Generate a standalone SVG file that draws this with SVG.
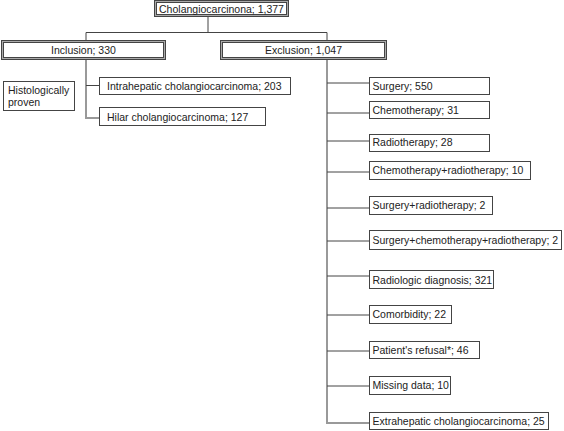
<svg xmlns="http://www.w3.org/2000/svg" width="564" height="431" viewBox="0 0 564 431">
<style>
text{font-family:"Liberation Sans",Arial,sans-serif;font-size:10.5px;fill:#222}
.b{fill:#fff;stroke:#444;stroke-width:1}
.o{fill:#aaa;stroke:#444;stroke-width:1}
.t{stroke:#999;stroke-width:2;fill:none}
.c{stroke:#444;stroke-width:1;fill:none}
</style>
<rect width="564" height="431" fill="#fff"/>
<g id="connectors">
<path class="c" d="M208 16V32.5H86V40"/>
<path class="c" d="M208 32.5H327V40"/>
<path class="t" d="M86 60V118H100"/>
<path class="c" d="M86 85.5H100"/>
<path class="t" d="M327 60V423H369"/>
<path class="c" d="M327 83H369M327 113H369M327 141H369M327 172H369M327 208H369M327 241H369M327 276H369M327 315H369M327 351H369M327 386H369"/>
</g>
<g id="root"><rect class="o" x="154.5" y="0.5" width="134" height="16"/><rect class="b" x="156.5" y="2.5" width="130" height="12"/><text x="221.5" y="12.5" text-anchor="middle">Cholangiocarcinona; 1,377</text></g>
<g id="inclusion"><rect class="o" x="1.5" y="40.5" width="164" height="19"/><rect class="b" x="3.5" y="42.5" width="160" height="15"/><text x="83.5" y="54" text-anchor="middle">Inclusion; 330</text></g>
<g id="exclusion"><rect class="o" x="220.5" y="40.5" width="166" height="19"/><rect class="b" x="222.5" y="42.5" width="162" height="15"/><text x="303.5" y="54" text-anchor="middle">Exclusion; 1,047</text></g>
<g id="histo"><rect class="b" x="3.5" y="81.5" width="71" height="29"/><text x="8" y="94">Histologically</text><text x="8" y="105.5">proven</text></g>
<g id="intra"><rect class="b" x="99.5" y="77.5" width="191" height="17"/><text x="107" y="90">Intrahepatic cholangiocarcinoma; 203</text></g>
<g id="hilar"><rect class="b" x="99.5" y="107.5" width="166" height="18"/><text x="107" y="120.5">Hilar cholangiocarcinoma; 127</text></g>
<g id="surgery"><rect class="b" x="369.5" y="77.5" width="120" height="17"/><text x="372.5" y="89.5">Surgery; 550</text></g>
<g id="chemo"><rect class="b" x="369.5" y="101.5" width="120" height="17"/><text x="372.5" y="113.5">Chemotherapy; 31</text></g>
<g id="radio"><rect class="b" x="369.5" y="134.5" width="120" height="17"/><text x="372.5" y="146">Radiotherapy; 28</text></g>
<g id="chemoradio"><rect class="b" x="369.5" y="161.5" width="161" height="18"/><text x="372.5" y="174">Chemotherapy+radiotherapy; 10</text></g>
<g id="surgradio"><rect class="b" x="369.5" y="196.5" width="123" height="18"/><text x="372.5" y="209">Surgery+radiotherapy; 2</text></g>
<g id="surgchemoradio"><rect class="b" x="369.5" y="230.5" width="192" height="19"/><text x="372.5" y="243.5">Surgery+chemotherapy+radiotherapy; 2</text></g>
<g id="radiologic"><rect class="b" x="369.5" y="270.5" width="124" height="18"/><text x="372.5" y="283.5">Radiologic diagnosis; 321</text></g>
<g id="comorbidity"><rect class="b" x="369.5" y="305.5" width="82" height="18"/><text x="372.5" y="318">Comorbidity; 22</text></g>
<g id="refusal"><rect class="b" x="369.5" y="341.5" width="110" height="17"/><text x="372.5" y="354">Patient's refusal*; 46</text></g>
<g id="missing"><rect class="b" x="369.5" y="376.5" width="81" height="18"/><text x="372.5" y="389">Missing data; 10</text></g>
<g id="extra"><rect class="b" x="369.5" y="412.5" width="179" height="17"/><text x="372.5" y="425">Extrahepatic cholangiocarcinoma; 25</text></g>
</svg>
